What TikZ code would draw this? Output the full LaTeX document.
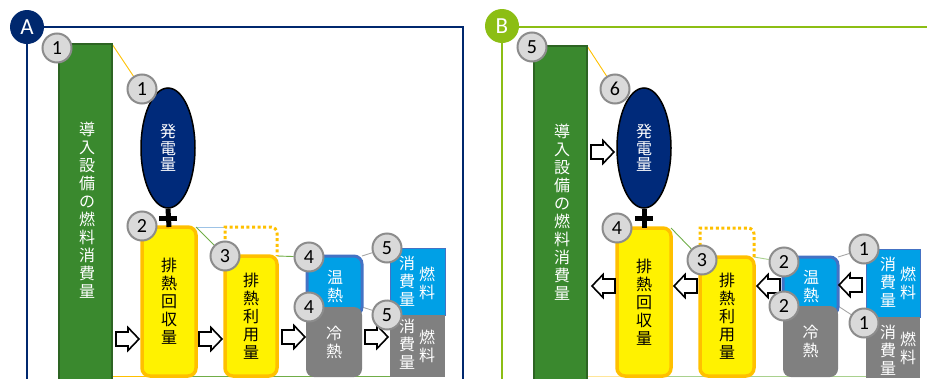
\documentclass[tikz,border=0pt]{standalone}
\usepackage{fontspec}
\newfontfamily\jpfont{Noto Sans CJK JP}
\newfontfamily\numfont{Carlito}
\usetikzlibrary{backgrounds}
\definecolor{navyC}{RGB}{0,40,110}
\definecolor{ellC}{RGB}{0,42,122}
\definecolor{limeC}{RGB}{140,190,20}
\definecolor{grnC}{RGB}{58,137,46}
\definecolor{grnD}{RGB}{45,100,35}
\definecolor{orangeC}{RGB}{255,192,0}
\definecolor{skyC}{RGB}{0,160,230}
\definecolor{blueB}{RGB}{68,114,196}
\definecolor{grayC}{RGB}{128,128,128}
\definecolor{cfill}{RGB}{217,217,217}
\definecolor{cline}{RGB}{140,140,140}
\definecolor{leadG}{RGB}{112,173,71}
\definecolor{leadGl}{RGB}{169,209,142}
\definecolor{leadYl}{RGB}{255,230,153}
\definecolor{leadB}{RGB}{157,195,230}
\definecolor{leadK}{RGB}{166,166,166}
\begin{document}
\begin{tikzpicture}[x=1pt,y=-1pt,
  numc/.style={circle, fill=cfill, draw=cline, line width=2pt, minimum size=29pt, inner sep=0pt, font=\numfont\fontsize{20}{20}\selectfont},
  lettc/.style={circle, minimum size=34pt, inner sep=0pt, text=white, font=\numfont\fontsize{23}{23}\selectfont},
  shapebox/.style={anchor=north west, inner sep=0pt, outer sep=0pt, align=center},
  jtext/.style={font=\jpfont\fontsize{16}{18}\selectfont},
  grect/.style={shapebox, fill=grnC, draw=grnD, line width=1.5pt, text=white, font=\jpfont\fontsize{16}{17.2}\selectfont},
  ybox/.style={shapebox, fill=yellow, draw=orangeC, line width=3.5pt, rounded corners=8pt, text=black, jtext},
  bbox/.style={shapebox, fill=skyC, draw=blueB, line width=3pt, rounded corners=8pt, text=white, jtext},
  kbox/.style={shapebox, fill=grayC, rounded corners=8pt, text=white, jtext},
  fbox/.style={shapebox, fill=skyC, draw=blueB, line width=1pt},
  fkbox/.style={shapebox, fill=grayC},
  vt/.style={align=center, inner sep=0pt, text=white, jtext},
  ell/.style={ellipse, fill=ellC, draw=black, line width=1.5pt, minimum width=54pt, minimum height=120pt, inner sep=0pt, align=center, text=white, font=\jpfont\fontsize{16}{16.5}\selectfont},
  dotbox/.style={draw=orangeC, line width=3pt, dash pattern=on 3pt off 2.6pt},
  lead/.style={line width=0.9pt},
  plusbar/.style={line width=5pt, draw=black},
  rarr/.pic={\draw[fill=white, line width=1.6pt, line join=miter] (0,-7) -- (12,-7) -- (12,-11.5) -- (23,0) -- (12,11.5) -- (12,7) -- (0,7) -- cycle;},
  larr/.pic={\draw[fill=white, line width=1.6pt, line join=miter] (23,-7) -- (11,-7) -- (11,-11.5) -- (0,0) -- (11,11.5) -- (11,7) -- (23,7) -- cycle;}
]
\usetikzlibrary{shapes.geometric}
\useasboundingbox (0,0) rectangle (927,378);

% ===== Panel A =====
\draw[navyC, line width=2.2pt] (27,380) -- (27,27) -- (463,27) -- (463,380);
\node[lettc, fill=navyC] (lA) at (27,27) {A};

\node[grect, minimum width=53pt, minimum height=336pt] (gA) at (59,44) {};
\node[vt] (gAt) at (87,210) {\fontsize{16}{17.2}\selectfont 導\\入\\設\\備\\の\\燃\\料\\消\\費\\量};
\node[ell] (eA) at (168,148) {発\\電\\量};
\node[ybox, minimum width=54pt, minimum height=149pt] (yA1) at (142,227) {排\\熱\\回\\収\\量};
\draw[plusbar] (eA.south) -- (yA1.north);
\draw[plusbar] (159,218) -- (177,218);
\coordinate (dA) at (225,227);
\draw[dotbox] (225,256) -- (dA) [rounded corners=6pt] -- (277,227) -- (277,256);
\node[ybox, minimum width=52pt, minimum height=120pt] (yA2) at (225,256) {排\\熱\\利\\用\\量};
\node[bbox, minimum width=55pt, minimum height=59pt] (bA) at (307,256) {};
\node[vt] at (335,287) {温\\熱};
\node[kbox, minimum width=56pt, minimum height=70pt] (kA) at (306,307) {冷\\熱};
\node[fbox, minimum width=55pt, minimum height=67pt] (fbA) at (390,248) {};
\node[fkbox, minimum width=55pt, minimum height=62pt] (fkA) at (390,315) {};
\node[vt] (fbA1) at (407,281) {消\\費\\量};
\node[vt] (fbA2) at (427,283) {燃\\料};
\node[vt] (fkA1) at (407,344) {消\\費\\量};
\node[vt] (fkA2) at (427,346) {燃\\料};

\pic at (116,339) {rarr};
\pic at (199,339) {rarr};
\pic at (282,337) {rarr};
\pic at (365,337) {rarr};

\node[numc] (cA1a) at (57,48) {1};
\node[numc] (cA1b) at (142,89) {1};
\node[numc] (cA2) at (142,226) {2};
\node[numc] (cA3) at (225,256) {3};
\node[numc] (cA4a) at (309,257) {4};
\node[numc] (cA4b) at (309,307) {4};
\node[numc] (cA5a) at (387,248) {5};
\node[numc] (cA5b) at (387,315) {5};

\coordinate (bA0) at (112,376);
\coordinate (bA1) at (168,376);
\coordinate (bA2) at (390,376);

\begin{scope}[on background layer]
\draw[lead, orangeC] (gA.north east) -- (cA1b);
\draw[lead, leadB] (yA1.north east) -- (dA);
\draw[lead, leadG] (yA1.north east) -- (cA3);
\draw[lead, leadG] (yA2.north east) -- (cA4a);
\draw[lead, leadK] (bA.north east) -- (cA5a);
\draw[lead, leadK] (kA.north east) -- (cA5b);
\draw[lead, orangeC] (bA0) -- (bA1);
\draw[lead, leadG] (bA1) -- (bA2);
\end{scope}

% ===== Panel B =====
\draw[limeC, line width=2.2pt] (502,380) -- (502,27) -- (930,27);
\node[lettc, fill=limeC] (lB) at (502,26) {B};

\node[grect, minimum width=53pt, minimum height=334pt] (gB) at (534,46) {};
\node[vt] (gBt) at (562,212) {\fontsize{16}{17.2}\selectfont 導\\入\\設\\備\\の\\燃\\料\\消\\費\\量};
\node[ell] (eB) at (644,148) {発\\電\\量};
\node[ybox, minimum width=54pt, minimum height=148pt] (yB1) at (617,228) {排\\熱\\回\\収\\量};
\draw[plusbar] (eB.south) -- (yB1.north);
\draw[plusbar] (635,218) -- (653,218);
\draw[dotbox] (700,257) -- (700,228) [rounded corners=6pt] -- (754,228) -- (754,257);
\node[ybox, minimum width=54pt, minimum height=119pt] (yB2) at (700,257) {排\\熱\\利\\用\\量};
\node[bbox, minimum width=55pt, minimum height=58pt] (bB) at (783,257) {};
\node[vt] at (811,287) {温\\熱};
\node[kbox, minimum width=55pt, minimum height=71pt] (kB) at (783,306) {冷\\熱};
\node[fbox, minimum width=54pt, minimum height=68pt] (fbB) at (866,249) {};
\node[fkbox, minimum width=54pt, minimum height=61pt] (fkB) at (866,317) {};
\node[vt] (fbB1) at (888,282) {消\\費\\量};
\node[vt] (fbB2) at (908,283) {燃\\料};
\node[vt] (fkB1) at (888,350) {消\\費\\量};
\node[vt] (fkB2) at (908,348) {燃\\料};

\pic at (591,152) {rarr};
\pic at (592,286) {larr};
\pic at (674,286) {larr};
\pic at (757,286) {larr};
\pic at (839,285) {larr};

\node[numc] (cB5) at (532,47) {5};
\node[numc] (cB6) at (615,89) {6};
\node[numc] (cB4) at (617,228) {4};
\node[numc] (cB3) at (702,260) {3};
\node[numc] (cB2a) at (784,262) {2};
\node[numc] (cB2b) at (784,306) {2};
\node[numc] (cB1a) at (864,249) {1};
\node[numc] (cB1b) at (864,323) {1};

\coordinate (bB0) at (587,376);
\coordinate (bB1) at (643,376);
\coordinate (bB2) at (866,376);

\begin{scope}[on background layer]
\draw[lead, orangeC] (gB.north east) -- (cB6);
\draw[lead, leadG] (yB1.north east) -- (cB3);
\draw[lead, leadGl] (yB2.north east) -- (cB2a);
\draw[lead, leadK] (bB.north east) -- (cB1a);
\draw[lead, leadK] (kB.north east) -- (cB1b);
\draw[lead, leadYl] (bB0) -- (bB1);
\draw[lead, leadGl] (bB1) -- (bB2);
\end{scope}
\end{tikzpicture}
\end{document}
